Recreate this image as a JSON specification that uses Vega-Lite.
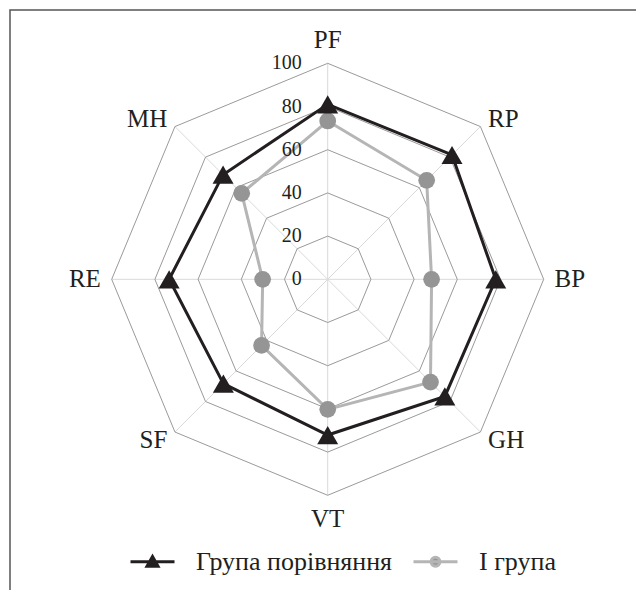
{
  "$schema": "https://vega.github.io/schema/vega-lite/v6.json",
  "width": 626,
  "height": 580,
  "autosize": {"type": "none"},
  "padding": {"left": 10, "top": 10, "right": 0, "bottom": 0},
  "background": "white",
  "config": {
    "view": {"stroke": "#555555", "strokeWidth": 1.5, "strokeDash": [626, 1206, 580]},
    "font": "Liberation Serif",
    "legend": {
      "labelFont": "Liberation Serif",
      "labelFontSize": 26,
      "labelColor": "#231f20",
      "symbolSize": 1936,
      "symbolStrokeWidth": 3,
      "labelOffset": 20,
      "columnPadding": 14,
      "padding": 0,
      "labelLimit": 400
    }
  },
  "datasets": {
    "axes": [
      {"axis": "PF", "i": 0, "levels": [20, 40, 60, 80, 100]},
      {"axis": "RP", "i": 1, "levels": [20, 40, 60, 80, 100]},
      {"axis": "BP", "i": 2, "levels": [20, 40, 60, 80, 100]},
      {"axis": "GH", "i": 3, "levels": [20, 40, 60, 80, 100]},
      {"axis": "VT", "i": 4, "levels": [20, 40, 60, 80, 100]},
      {"axis": "SF", "i": 5, "levels": [20, 40, 60, 80, 100]},
      {"axis": "RE", "i": 6, "levels": [20, 40, 60, 80, 100]},
      {"axis": "MH", "i": 7, "levels": [20, 40, 60, 80, 100]}
    ],
    "ticks": [
      {"level": 0}, {"level": 20}, {"level": 40}, {"level": 60}, {"level": 80}, {"level": 100}
    ],
    "scores": [
      {"group": "Група порівняння", "axis": "PF", "i": 0, "value": 81.0},
      {"group": "Група порівняння", "axis": "RP", "i": 1, "value": 81.4},
      {"group": "Група порівняння", "axis": "BP", "i": 2, "value": 77.8},
      {"group": "Група порівняння", "axis": "GH", "i": 3, "value": 76.7},
      {"group": "Група порівняння", "axis": "VT", "i": 4, "value": 72.1},
      {"group": "Група порівняння", "axis": "SF", "i": 5, "value": 68.3},
      {"group": "Група порівняння", "axis": "RE", "i": 6, "value": 73.4},
      {"group": "Група порівняння", "axis": "MH", "i": 7, "value": 68.5},
      {"group": "І група", "axis": "PF", "i": 0, "value": 73.3},
      {"group": "І група", "axis": "RP", "i": 1, "value": 64.8},
      {"group": "І група", "axis": "BP", "i": 2, "value": 48.1},
      {"group": "І група", "axis": "GH", "i": 3, "value": 67.3},
      {"group": "І група", "axis": "VT", "i": 4, "value": 60.2},
      {"group": "І група", "axis": "SF", "i": 5, "value": 43.3},
      {"group": "І група", "axis": "RE", "i": 6, "value": 30.1},
      {"group": "І група", "axis": "MH", "i": 7, "value": 56.3}
    ]
  },
  "encoding": {
    "x": {"field": "px", "type": "quantitative", "axis": null, "scale": {"domain": [-147.08, 142.73], "nice": false, "zero": false}},
    "y": {"field": "py", "type": "quantitative", "axis": null, "scale": {"domain": [-143.84, 124.68], "nice": false, "zero": false}}
  },
  "layer": [
    {
      "data": {"name": "axes"},
      "transform": [
        {"calculate": "datum.i*PI/4", "as": "a"},
        {"calculate": "0", "as": "px"},
        {"calculate": "0", "as": "py"},
        {"calculate": "100*sin(datum.a)", "as": "ex"},
        {"calculate": "100*cos(datum.a)", "as": "ey"}
      ],
      "mark": {"type": "rule", "color": "#d9d9d9", "strokeWidth": 1},
      "encoding": {"x2": {"field": "ex"}, "y2": {"field": "ey"}}
    },
    {
      "data": {"name": "axes"},
      "transform": [
        {"flatten": ["levels"], "as": ["level"]},
        {"calculate": "datum.i*PI/4", "as": "a"},
        {"calculate": "datum.level*sin(datum.a)", "as": "px"},
        {"calculate": "datum.level*cos(datum.a)", "as": "py"}
      ],
      "mark": {"type": "line", "interpolate": "linear-closed", "color": "#9a9a9a", "strokeWidth": 1},
      "encoding": {"detail": {"field": "level", "type": "nominal"}, "order": {"field": "i", "type": "quantitative"}}
    },
    {
      "data": {"name": "scores"},
      "transform": [
        {"calculate": "datum.i*PI/4", "as": "a"},
        {"calculate": "datum.value*sin(datum.a)", "as": "px"},
        {"calculate": "datum.value*cos(datum.a)", "as": "py"}
      ],
      "mark": {"type": "line", "interpolate": "linear-closed", "strokeWidth": 3},
      "encoding": {
        "stroke": {"field": "group", "type": "nominal", "scale": {"domain": ["Група порівняння", "І група"], "range": ["#231f20", "#b5b5b5"]},
          "legend": {"title": null, "orient": "none", "legendX": 119, "legendY": 528, "direction": "horizontal"}},
        "order": {"field": "i", "type": "quantitative"}
      }
    },
    {
      "data": {"name": "scores"},
      "transform": [
        {"filter": "datum.group == 'І група'"},
        {"calculate": "datum.i*PI/4", "as": "a"},
        {"calculate": "datum.value*sin(datum.a)", "as": "px"},
        {"calculate": "datum.value*cos(datum.a)", "as": "py"}
      ],
      "mark": {"type": "point", "filled": true, "shape": "circle", "size": 280, "opacity": 1, "strokeWidth": 0},
      "encoding": {
        "fill": {"field": "group", "type": "nominal", "scale": {"domain": ["Група порівняння", "І група"], "range": ["#231f20", "#959595"]},
          "legend": {"title": null, "orient": "none", "legendX": 119, "legendY": 528, "direction": "horizontal"}}
      }
    },
    {
      "data": {"name": "scores"},
      "transform": [
        {"filter": "datum.group == 'Група порівняння'"},
        {"calculate": "datum.i*PI/4", "as": "a"},
        {"calculate": "datum.value*sin(datum.a)", "as": "px"},
        {"calculate": "datum.value*cos(datum.a)", "as": "py"}
      ],
      "mark": {"type": "point", "filled": true, "shape": "triangle-up", "size": 440, "opacity": 1, "strokeWidth": 0},
      "encoding": {
        "fill": {"field": "group", "type": "nominal", "scale": {"domain": ["Група порівняння", "І група"], "range": ["#231f20", "#959595"]},
          "legend": {"title": null, "orient": "none", "legendX": 119, "legendY": 528, "direction": "horizontal"}}
      }
    },
    {
      "data": {"name": "scores"},
      "transform": [
        {"filter": "false"},
        {"calculate": "0", "as": "px"},
        {"calculate": "0", "as": "py"}
      ],
      "mark": {"type": "point", "filled": true},
      "encoding": {
        "shape": {"field": "group", "type": "nominal",
          "scale": {"domain": ["Група порівняння", "І група"], "range": ["M-1,0H1M0,-0.24L0.25,0.2L-0.25,0.2Z", "M-1,0H1M0.2,0A0.2,0.2 0 1,1 -0.2,0A0.2,0.2 0 1,1 0.2,0Z"]},
          "legend": {"title": null, "orient": "none", "legendX": 119, "legendY": 528, "direction": "horizontal"}}
      }
    },
    {
      "data": {"name": "ticks"},
      "transform": [
        {"calculate": "0", "as": "px"},
        {"calculate": "datum.level", "as": "py"}
      ],
      "mark": {"type": "text", "align": "right", "baseline": "middle", "dx": -26, "fontSize": 20, "font": "Liberation Serif", "color": "#231f20"},
      "encoding": {"text": {"field": "level", "type": "quantitative"}}
    },
    {
      "data": {"name": "axes"},
      "transform": [
        {"filter": "datum.i > 0 && datum.i < 4"},
        {"calculate": "datum.i*PI/4", "as": "a"},
        {"calculate": "105*sin(datum.a)", "as": "px"},
        {"calculate": "105*cos(datum.a)", "as": "py"}
      ],
      "mark": {"type": "text", "align": "left", "baseline": "middle", "fontSize": 25, "font": "Liberation Serif", "color": "#231f20"},
      "encoding": {"text": {"field": "axis", "type": "nominal"}}
    },
    {
      "data": {"name": "axes"},
      "transform": [
        {"filter": "datum.i > 4"},
        {"calculate": "datum.i*PI/4", "as": "a"},
        {"calculate": "105*sin(datum.a)", "as": "px"},
        {"calculate": "105*cos(datum.a)", "as": "py"}
      ],
      "mark": {"type": "text", "align": "right", "baseline": "middle", "fontSize": 25, "font": "Liberation Serif", "color": "#231f20"},
      "encoding": {"text": {"field": "axis", "type": "nominal"}}
    },
    {
      "data": {"name": "axes"},
      "transform": [
        {"filter": "datum.i == 0 || datum.i == 4"},
        {"calculate": "datum.i*PI/4", "as": "a"},
        {"calculate": "111*sin(datum.a)", "as": "px"},
        {"calculate": "111*cos(datum.a)", "as": "py"}
      ],
      "mark": {"type": "text", "align": "center", "baseline": "middle", "fontSize": 25, "font": "Liberation Serif", "color": "#231f20"},
      "encoding": {"text": {"field": "axis", "type": "nominal"}}
    }
  ]
}
